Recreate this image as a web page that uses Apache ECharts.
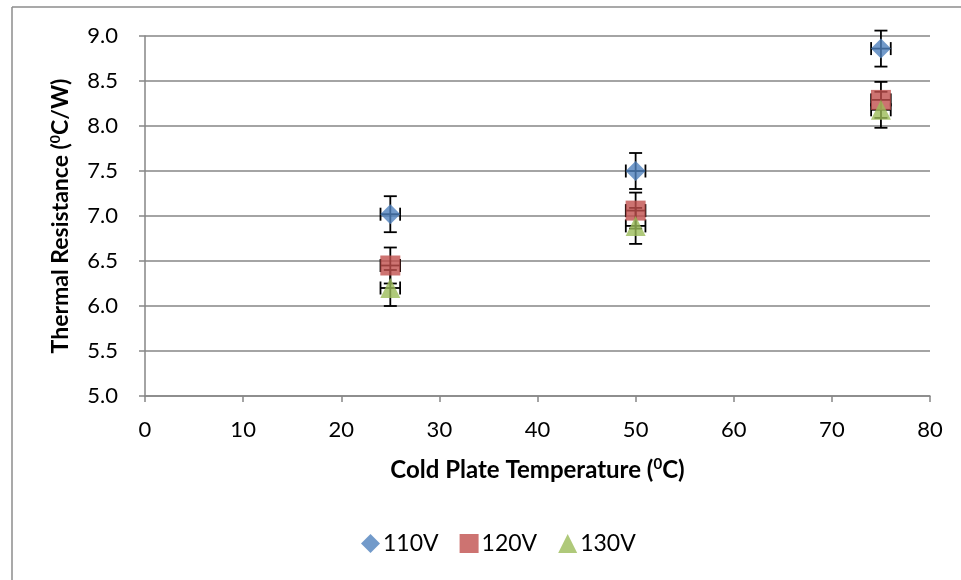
<!DOCTYPE html>
<html>
<head>
<meta charset="utf-8">
<script src="https://cdn.jsdelivr.net/npm/echarts@6/dist/echarts.min.js"></script>
<style>html,body{margin:0;padding:0;background:#fff;}#c{width:961px;height:580px;}</style>
</head>
<body>
<div id="c"></div>
<script>
// Data
const xValues = [25, 50, 75];
const series110 = [7.02, 7.50, 8.86];
const series120 = [6.45, 7.06, 8.29];
const series130 = [6.20, 6.89, 8.18];
const yErr = 0.2;
const xErr = 1;
const seriesNames = ['110V', '120V', '130V'];
const colors = ['#4F81BD', '#C0504D', '#9BBB59'];
const symbols = ['diamond', 'rect', 'triangle'];

const chart = echarts.init(document.getElementById('c'), null, {renderer: 'canvas'});
const FONT = 'Lato';

function pts(vals) { return xValues.map((x, i) => [x, vals[i]]); }
function errData(vals) { return xValues.map((x, i) => [x, vals[i], yErr, xErr]); }

function renderErr(params, api) {
  const x = api.value(0), y = api.value(1), ey = api.value(2), ex = api.value(3);
  const top = api.coord([x, y + ey]);
  const bot = api.coord([x, y - ey]);
  const left = api.coord([x - ex, y]);
  const right = api.coord([x + ex, y]);
  const cap = 6.5;
  const st = {stroke: '#000', lineWidth: 1.8};
  const L = (x1, y1, x2, y2) => ({type: 'line', shape: {x1, y1, x2, y2}, style: st});
  return {
    type: 'group',
    children: [
      L(top[0], top[1], bot[0], bot[1]),
      L(top[0] - cap, top[1], top[0] + cap, top[1]),
      L(bot[0] - cap, bot[1], bot[0] + cap, bot[1]),
      L(left[0], left[1], right[0], right[1]),
      L(left[0], left[1] - cap, left[0], left[1] + cap),
      L(right[0], right[1] - cap, right[0], right[1] + cap)
    ]
  };
}

const allVals = [series110, series120, series130];
const series = [];
allVals.forEach((v, i) => {
  series.push({
    name: seriesNames[i] + '_err',
    type: 'custom',
    renderItem: renderErr,
    data: errData(v),
    z: 1,
    silent: true
  });
});
allVals.forEach((v, i) => {
  series.push({
    name: seriesNames[i],
    type: 'scatter',
    symbol: symbols[i],
    symbolSize: 20,
    itemStyle: {color: colors[i]},
    data: pts(v),
    z: 3 + i
  });
});

const option = {
  animation: false,
  textStyle: {fontFamily: FONT},
  graphic: [
    {type: 'line', shape: {x1: 12, y1: 7, x2: 961, y2: 7}, style: {stroke: '#8c8c8c', lineWidth: 1.5}},
    {type: 'line', shape: {x1: 12, y1: 7, x2: 12, y2: 580}, style: {stroke: '#8c8c8c', lineWidth: 1.5}}
  ],
  grid: {left: 145, right: 31, top: 36, bottom: 184, containLabel: false},
  legend: {
    data: seriesNames,
    bottom: 20,
    left: 356,
    itemWidth: 19,
    itemHeight: 19,
    itemGap: 21,
    textStyle: {fontSize: 23, color: '#000', fontFamily: FONT, padding: [0,0,0,-2]}
  },
  xAxis: {
    type: 'value',
    min: 0, max: 80, interval: 10,
    name: 'Cold Plate Temperature ({s|0}C)',
    nameLocation: 'middle',
    nameGap: 61,
    nameTextStyle: {
      fontSize: 24, fontWeight: 'bold', color: '#000', fontFamily: FONT,
      rich: {s: {fontSize: 15, fontWeight: 'bold', color: '#000', fontFamily: FONT, padding: [0, 0, 12, 0]}}
    },
    axisLine: {show: true, lineStyle: {color: '#868686', width: 1.5}},
    axisTick: {show: true, inside: false, length: 6, lineStyle: {color: '#868686', width: 1.5}},
    axisLabel: {fontSize: 22, color: '#000', margin: 23, fontFamily: FONT},
    splitLine: {show: false}
  },
  yAxis: {
    type: 'value',
    min: 5, max: 9, interval: 0.5,
    name: 'Thermal Resistance ({s|0}C/W)',
    nameLocation: 'middle',
    nameGap: 71,
    nameRotate: 90,
    nameTextStyle: {
      fontSize: 23, fontWeight: 'bold', color: '#000', fontFamily: FONT,
      rich: {s: {fontSize: 14, fontWeight: 'bold', color: '#000', fontFamily: FONT, padding: [0, 0, 12, 0]}}
    },
    axisLine: {show: true, lineStyle: {color: '#868686', width: 1.5}},
    axisTick: {show: true, inside: false, length: 6, lineStyle: {color: '#868686', width: 1.5}},
    axisLabel: {fontSize: 22, color: '#000', margin: 27, fontFamily: FONT, formatter: v => v.toFixed(1)},
    splitLine: {show: true, lineStyle: {color: '#868686', width: 1.5}}
  },
  series: series
};
chart.setOption(option);
</script>
</body>
</html>
